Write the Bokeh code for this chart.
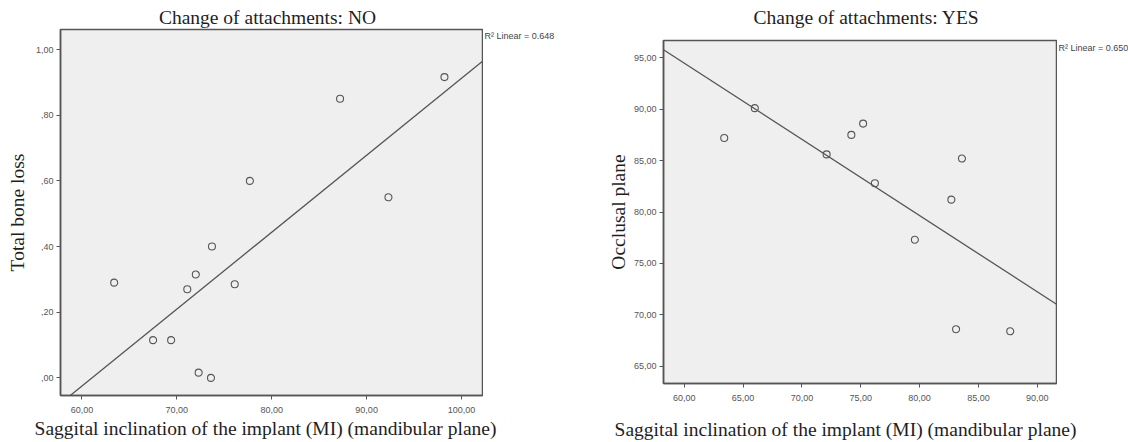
from bokeh.plotting import figure
from bokeh.models import Range1d, FixedTicker, Label
from bokeh.layouts import row, column
from bokeh.embed import file_html
from bokeh.resources import INLINE

# ---- data: Change of attachments = NO ----
no_x = [63.4, 67.5, 69.4, 71.1, 72.0, 72.3, 73.6, 73.7, 76.1, 77.7, 87.2, 92.3, 98.2]
no_y = [0.29, 0.115, 0.115, 0.27, 0.315, 0.016, 0.0, 0.40, 0.285, 0.60, 0.85, 0.55, 0.916]
no_fit_x = [58.77, 102.21]
no_fit_y = [-0.0536, 0.964]
no_title = "Change of attachments: NO"
no_ylabel = "Total bone loss"
no_r2 = "R² Linear = 0.648"
no_xticks = [60, 70, 80, 90, 100]
no_xtick_labels = ["60,00", "70,00", "80,00", "90,00", "100,00"]
no_yticks = [0.0, 0.2, 0.4, 0.6, 0.8, 1.0]
no_ytick_labels = [",00", ",20", ",40", ",60", ",80", "1,00"]

# ---- data: Change of attachments = YES ----
yes_x = [63.4, 66.0, 72.1, 74.2, 75.2, 76.2, 79.6, 82.7, 83.6, 83.1, 87.7]
yes_y = [87.2, 90.1, 85.6, 87.5, 88.6, 82.8, 77.3, 81.2, 85.2, 68.6, 68.4]
yes_fit_x = [58.24, 91.63]
yes_fit_y = [95.78, 71.03]
yes_title = "Change of attachments: YES"
yes_ylabel = "Occlusal plane"
yes_r2 = "R² Linear = 0.650"
yes_xticks = [60, 65, 70, 75, 80, 85, 90]
yes_xtick_labels = ["60,00", "65,00", "70,00", "75,00", "80,00", "85,00", "90,00"]
yes_yticks = [65, 70, 75, 80, 85, 90, 95]
yes_ytick_labels = ["65,00", "70,00", "75,00", "80,00", "85,00", "90,00", "95,00"]

x_label = "Saggital inclination of the implant (MI) (mandibular plane)"

INK = "#555555"
TEXT = "#1e1e1e"
SERIF = "Liberation Serif"
SANS = "Liberation Sans"
BIG = "19.5px"


def text_box(width, height, text, x, y, size, font, color, align="center"):
    """A blank strip that only carries one piece of text."""
    f = figure(width=width, height=height, output_backend="svg", toolbar_location=None,
               x_range=Range1d(0, width), y_range=Range1d(height, 0),
               x_axis_location=None, y_axis_location=None)
    f.min_border_left = f.min_border_right = f.min_border_top = f.min_border_bottom = 0
    f.outline_line_color = None
    f.grid.visible = False
    f.background_fill_color = "white"
    f.border_fill_color = "white"
    f.add_layout(Label(x=x, y=y, text=text, text_font=font, text_font_size=size,
                       text_color=color, text_baseline="middle", text_align=align))
    return f


def panel(ylabel, xs, ys, fx, fy, xr, yr, xt, xtl, yt, ytl,
          width, height, borders, ylab_standoff):
    p = figure(width=width, height=height, output_backend="svg", toolbar_location=None,
               x_range=Range1d(*xr), y_range=Range1d(*yr))
    p.min_border_left, p.min_border_right, p.min_border_top, p.min_border_bottom = borders
    p.background_fill_color = "#efefef"
    p.border_fill_color = "white"
    p.outline_line_color = INK
    p.outline_line_width = 1.5
    p.grid.visible = False

    for ax, ticks, labels in ((p.xaxis[0], xt, xtl), (p.yaxis[0], yt, ytl)):
        ax.ticker = FixedTicker(ticks=ticks)
        ax.major_label_overrides = {t: l for t, l in zip(ticks, labels)}
        ax.minor_tick_line_color = None
        ax.major_tick_out = 4
        ax.major_tick_in = 0
        ax.major_tick_line_color = INK
        ax.axis_line_color = INK
        ax.axis_line_width = 1.5
        ax.major_label_text_font = SANS
        ax.major_label_text_font_size = "9px"
        ax.major_label_text_color = "#555555"
        ax.axis_label_text_font = SERIF
        ax.axis_label_text_font_style = "normal"
        ax.axis_label_text_font_size = BIG
        ax.axis_label_text_color = TEXT

    p.xaxis.major_label_standoff = 7
    p.yaxis.major_label_standoff = 3
    p.yaxis.axis_label = ylabel
    p.yaxis.axis_label_standoff = ylab_standoff

    p.line(fx, fy, line_color=INK, line_width=1.3)
    p.scatter(xs, ys, marker="circle", size=7, fill_color=None,
              line_color=INK, line_width=1.1)
    return p


# ---------- left panel (560 px wide) ----------
p1 = panel(no_ylabel, no_x, no_y, no_fit_x, no_fit_y,
           (57.74, 102.21), (-0.0536, 1.061), no_xticks, no_xtick_labels,
           no_yticks, no_ytick_labels, 483, 390, (60, 1, 1, 23), 5)
r1 = text_box(77, 390, no_r2, 1, 7, "9px", SANS, "#444444", align="left")
t1 = text_box(560, 28, no_title, 267, 16.5, BIG, SERIF, TEXT)
b1 = text_box(560, 24, x_label, 265, 10, BIG, SERIF, TEXT)
left = column(row(t1), row(column(p1), column(r1)), row(b1))

# ---------- right panel (568 px wide) ----------
p2 = panel(yes_ylabel, yes_x, yes_y, yes_fit_x, yes_fit_y,
           (58.24, 91.63), (63.32, 96.68), yes_xticks, yes_xtick_labels,
           yes_yticks, yes_ytick_labels, 497, 372, (103, 1, 2, 27), 2)
r2 = text_box(71, 372, yes_r2, 1, 9, "9px", SANS, "#444444", align="left")
t2 = text_box(568, 38, yes_title, 306, 17, BIG, SERIF, TEXT)
b2 = text_box(568, 32, x_label, 285, 19, BIG, SERIF, TEXT)
right = column(row(t2), row(column(p2), column(r2)), row(b2))

layout = row(left, right)
open("out.html", "w").write(file_html(layout, INLINE))
